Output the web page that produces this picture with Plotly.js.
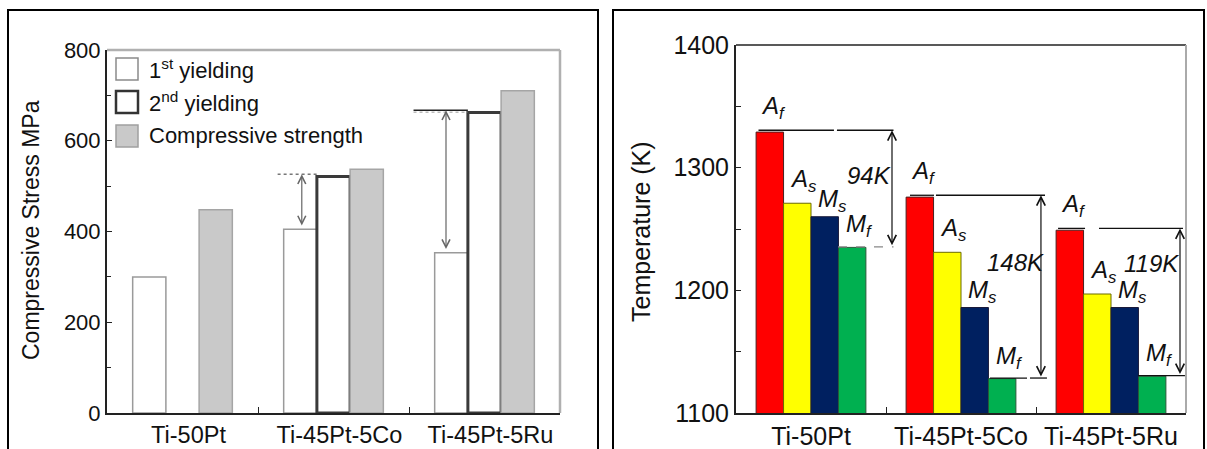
<!DOCTYPE html>
<html>
<head>
<meta charset="utf-8">
<script src="https://cdn.plot.ly/plotly-3.0.1.min.js"></script>
<style>html,body{margin:0;padding:0;background:#fff;}#chart{width:1207px;height:449px;}</style>
</head>
<body>
<div id="chart"></div>
<script>
// ---- data ----
const categories = ['Ti-50Pt', 'Ti-45Pt-5Co', 'Ti-45Pt-5Ru'];
const firstYielding = [300, 405, 353];
const secondYielding = [null, 521, 662];
const compressiveStrength = [448, 537, 710];
const stressTicks = [0, 200, 400, 600, 800];

const Af = [1329, 1276, 1249];
const As = [1271, 1231, 1197];
const Ms = [1260, 1186, 1186];
const Mf = [1235, 1128, 1130];
const hysteresisLabels = ['94K', '148K', '119K'];
const tempTicks = [1100, 1200, 1300, 1400];

// ---- layout helpers ----
const W = 1207, H = 449;
const px = v => v / W;
const py = v => 1 - v / H;
const FONT = 'Liberation Sans, Arial, sans-serif';
const TXT = '#111';

const leftDom = {x: [px(107), px(560)], y: [py(413), py(50)]};
const rightDom = {x: [px(736), px(1186)], y: [py(413), py(45)]};

const LW = 0.22;            // left bar width (category units)
const RW = 0.183;           // right bar width

const traces = [];
function leftBar(y, name, fill, lc, lw, k) {
  traces.push({type: 'bar', x: categories, y: y, name: name, xaxis: 'x', yaxis: 'y',
    width: LW, offset: -1.5 * LW + k * LW,
    marker: {color: fill, line: {color: lc, width: lw}}, showlegend: false, hoverinfo: 'y'});
}
leftBar(firstYielding, '1st yielding', '#ffffff', '#9a9a9a', 1.5, 0);
leftBar(secondYielding, '2nd yielding', '#ffffff', '#3a3a3a', 3, 1);
leftBar(compressiveStrength, 'Compressive strength', '#c9c9c9', '#a5a5a5', 1.5, 2);

const tempSeries = [Af, As, Ms, Mf];
const tempColors = ['#ff0000', '#ffff00', '#002060', '#00b050'];
const tempLines = ['#4a2020', '#6b6b00', '#1a1a3a', '#2a5a3a'];
tempSeries.forEach((s, k) => {
  traces.push({type: 'bar', x: categories, y: s, xaxis: 'x2', yaxis: 'y2',
    width: RW, offset: -2 * RW + k * RW,
    marker: {color: tempColors[k], line: {color: tempLines[k], width: 1}},
    showlegend: false, hoverinfo: 'y'});
});

const shapes = [];
const annotations = [];

// outer frames
shapes.push({type: 'rect', xref: 'paper', yref: 'paper', x0: px(8), x1: px(598), y0: -0.2, y1: py(10), line: {color: '#000', width: 2}});
shapes.push({type: 'rect', xref: 'paper', yref: 'paper', x0: px(613), x1: px(1204), y0: -0.2, y1: py(10), line: {color: '#000', width: 2}});
// plot borders (top/right)
shapes.push({type: 'line', xref: 'paper', yref: 'paper', x0: leftDom.x[0], x1: leftDom.x[1], y0: leftDom.y[1], y1: leftDom.y[1], line: {color: '#b0b0b0', width: 2.5}});
shapes.push({type: 'line', xref: 'paper', yref: 'paper', x0: leftDom.x[1], x1: leftDom.x[1], y0: leftDom.y[0], y1: leftDom.y[1], line: {color: '#b0b0b0', width: 2.5}});
shapes.push({type: 'line', xref: 'paper', yref: 'paper', x0: rightDom.x[0], x1: rightDom.x[1], y0: rightDom.y[1], y1: rightDom.y[1], line: {color: '#222', width: 1.5}});
shapes.push({type: 'line', xref: 'paper', yref: 'paper', x0: rightDom.x[1], x1: rightDom.x[1], y0: rightDom.y[0], y1: rightDom.y[1], line: {color: '#aaaaaa', width: 2}});

// ---- left panel: manual legend ----
const legendItems = [
  {text: '1<sup>st</sup> yielding', fill: '#fff', lc: '#8a8a8a', lw: 1.5, cy: 69},
  {text: '2<sup>nd</sup> yielding', fill: '#fff', lc: '#333', lw: 2.5, cy: 102},
  {text: 'Compressive strength', fill: '#c9c9c9', lc: '#a0a0a0', lw: 1.5, cy: 136}
];
legendItems.forEach(it => {
  shapes.push({type: 'rect', xref: 'paper', yref: 'paper', x0: px(116), x1: px(138), y0: py(it.cy + 11), y1: py(it.cy - 11),
    fillcolor: it.fill, line: {color: it.lc, width: it.lw}});
  annotations.push({xref: 'paper', yref: 'paper', x: px(147), y: py(it.cy), xanchor: 'left', yanchor: 'middle',
    text: it.text, showarrow: false, font: {family: FONT, size: 22, color: TXT}});
});

// left panel: difference arrows between 1st and 2nd yielding
const leftMarks = [null, {l0: -0.37, l1: -0.11, ax: -0.21, dash: 'dot', lc: '#777'}, {l0: -0.47, l1: -0.11, ax: -0.255, dash: 'solid', lc: '#222'}];
leftMarks.forEach((m, i) => {
  if (!m) return;
  shapes.push({type: 'line', xref: 'x', yref: 'y', x0: i + m.l0, x1: i + m.l1, y0: secondYielding[i] + 5, y1: secondYielding[i] + 5,
    line: {color: m.lc, width: 1.5, dash: m.dash}});
  if (m.dash === 'solid') {
    shapes.push({type: 'line', xref: 'x', yref: 'y', x0: i + m.l0, x1: i + m.l1, y0: secondYielding[i] + 1, y1: secondYielding[i] + 1,
      line: {color: '#999', width: 1, dash: 'dot'}});
  }
  annotations.push({xref: 'x', yref: 'y', axref: 'x', ayref: 'y', x: i + m.ax, y: secondYielding[i] + 5, ax: i + m.ax, ay: firstYielding[i] + 5,
    text: '', showarrow: true, arrowside: 'end+start', arrowhead: 5, startarrowhead: 5, arrowsize: 1.3, startarrowsize: 1.3,
    arrowwidth: 1.2, arrowcolor: '#666'});
});

// left y-axis title
annotations.push({xref: 'paper', yref: 'paper', x: px(31), y: py(230), text: 'Compressive Stress MPa', textangle: -90,
  showarrow: false, font: {family: FONT, size: 23, color: TXT}, xanchor: 'center', yanchor: 'middle'});

// ---- right panel annotations ----
annotations.push({xref: 'paper', yref: 'paper', x: px(641), y: py(232), text: 'Temperature (K)', textangle: -90,
  showarrow: false, font: {family: FONT, size: 25, color: TXT}, xanchor: 'center', yanchor: 'middle'});

const labelNames = [['A', 'f'], ['A', 's'], ['M', 's'], ['M', 'f']];
const labelYShift = [7, 5, -1, 4];
const labelXShift = [4, 6, 8, 7];
tempSeries.forEach((s, k) => {
  s.forEach((v, i) => {
    annotations.push({xref: 'x2', yref: 'y2', x: i - 2 * RW + (k + 0.5) * RW, y: v, xanchor: 'center', yanchor: 'bottom',
      xshift: labelXShift[k], yshift: labelYShift[k], showarrow: false,
      text: '<i>' + labelNames[k][0] + '</i><sub><i>' + labelNames[k][1] + '</i></sub>',
      font: {family: FONT, size: 24, color: TXT}});
  });
});

// hysteresis marks: Af line (two segments), Mf line, double arrow, label
const rightMarks = [
  {a0: -0.35, g0: 0.153, g1: 0.173, a1: 0.55, m0: 0.18, mg0: null, mg1: null, m1: 0.55, mdash: 'dash', mc: '#888', ax: 0.54, lx: 0.387, ly: 1294},
  {a0: -0.34, g0: -0.18, g1: -0.167, a1: 0.56, m0: 0.193, mg0: 0.44, mg1: 0.46, m1: 0.573, mdash: 'solid', mc: '#111', ax: 0.533, lx: 0.36, ly: 1223},
  {a0: -0.353, g0: -0.173, g1: -0.08, a1: 0.48, m0: 0.18, mg0: null, mg1: null, m1: 0.493, mdash: 'solid', mc: '#111', ax: 0.46, lx: 0.27, ly: 1222}
];
rightMarks.forEach((m, i) => {
  const yA = Af[i] + 1.5, yM = Mf[i] + 0.5;
  shapes.push({type: 'line', xref: 'x2', yref: 'y2', x0: i + m.a0, x1: i + m.g0, y0: yA, y1: yA, line: {color: '#111', width: 1.3}});
  shapes.push({type: 'line', xref: 'x2', yref: 'y2', x0: i + m.g1, x1: i + m.a1, y0: yA, y1: yA, line: {color: '#111', width: 1.3}});
  if (m.mg0 === null) {
    shapes.push({type: 'line', xref: 'x2', yref: 'y2', x0: i + m.m0, x1: i + m.m1, y0: yM, y1: yM, line: {color: m.mc, width: 1.3, dash: m.mdash}});
  } else {
    shapes.push({type: 'line', xref: 'x2', yref: 'y2', x0: i + m.m0, x1: i + m.mg0, y0: yM, y1: yM, line: {color: m.mc, width: 1.3}});
    shapes.push({type: 'line', xref: 'x2', yref: 'y2', x0: i + m.mg1, x1: i + m.m1, y0: yM, y1: yM, line: {color: m.mc, width: 1.3}});
  }
  annotations.push({xref: 'x2', yref: 'y2', axref: 'x2', ayref: 'y2', x: i + m.ax, y: yA, ax: i + m.ax, ay: yM,
    text: '', showarrow: true, arrowside: 'end+start', arrowhead: 5, startarrowhead: 5, arrowsize: 1.4, startarrowsize: 1.4,
    arrowwidth: 1.2, arrowcolor: '#111'});
  annotations.push({xref: 'x2', yref: 'y2', x: i + m.lx, y: m.ly, text: '<i>' + hysteresisLabels[i] + '</i>', showarrow: false,
    xanchor: 'center', yanchor: 'middle', font: {family: FONT, size: 24, color: TXT}});
});

const axisCommon = {showline: true, linewidth: 2, linecolor: '#222', ticks: 'inside', tickcolor: '#222',
  showgrid: false, zeroline: false, fixedrange: true};

const layout = {
  width: W, height: H, margin: {l: 0, r: 0, t: 0, b: 0},
  paper_bgcolor: '#fff', plot_bgcolor: '#fff', showlegend: false, barmode: 'overlay',
  font: {family: FONT, color: TXT},
  xaxis: Object.assign({}, axisCommon, {domain: leftDom.x, anchor: 'y', type: 'category', range: [-0.5, 2.5],
    tickson: 'boundaries', ticklen: 6, tickfont: {size: 23.5, family: FONT, color: TXT}, ticklabelshift: 6}),
  yaxis: Object.assign({}, axisCommon, {domain: leftDom.y, anchor: 'x', range: [0, 800], tickvals: stressTicks,
    ticklen: 5, tickfont: {size: 22, family: FONT, color: TXT},
    minor: {dtick: 100, tick0: 0, ticks: 'inside', ticklen: 4, tickcolor: '#222'}}),
  xaxis2: Object.assign({}, axisCommon, {domain: rightDom.x, anchor: 'y2', type: 'category', range: [-0.5, 2.5],
    tickson: 'boundaries', ticklen: 6, tickfont: {size: 25, family: FONT, color: TXT}}),
  yaxis2: Object.assign({}, axisCommon, {domain: rightDom.y, anchor: 'x2', range: [1100, 1400], tickvals: tempTicks,
    ticklen: 5, tickfont: {size: 25, family: FONT, color: TXT},
    minor: {dtick: 50, tick0: 1100, ticks: 'inside', ticklen: 5, tickcolor: '#222'}}),
  shapes: shapes,
  annotations: annotations
};

Plotly.newPlot('chart', traces, layout, {staticPlot: true, displayModeBar: false});
</script>
</body>
</html>
